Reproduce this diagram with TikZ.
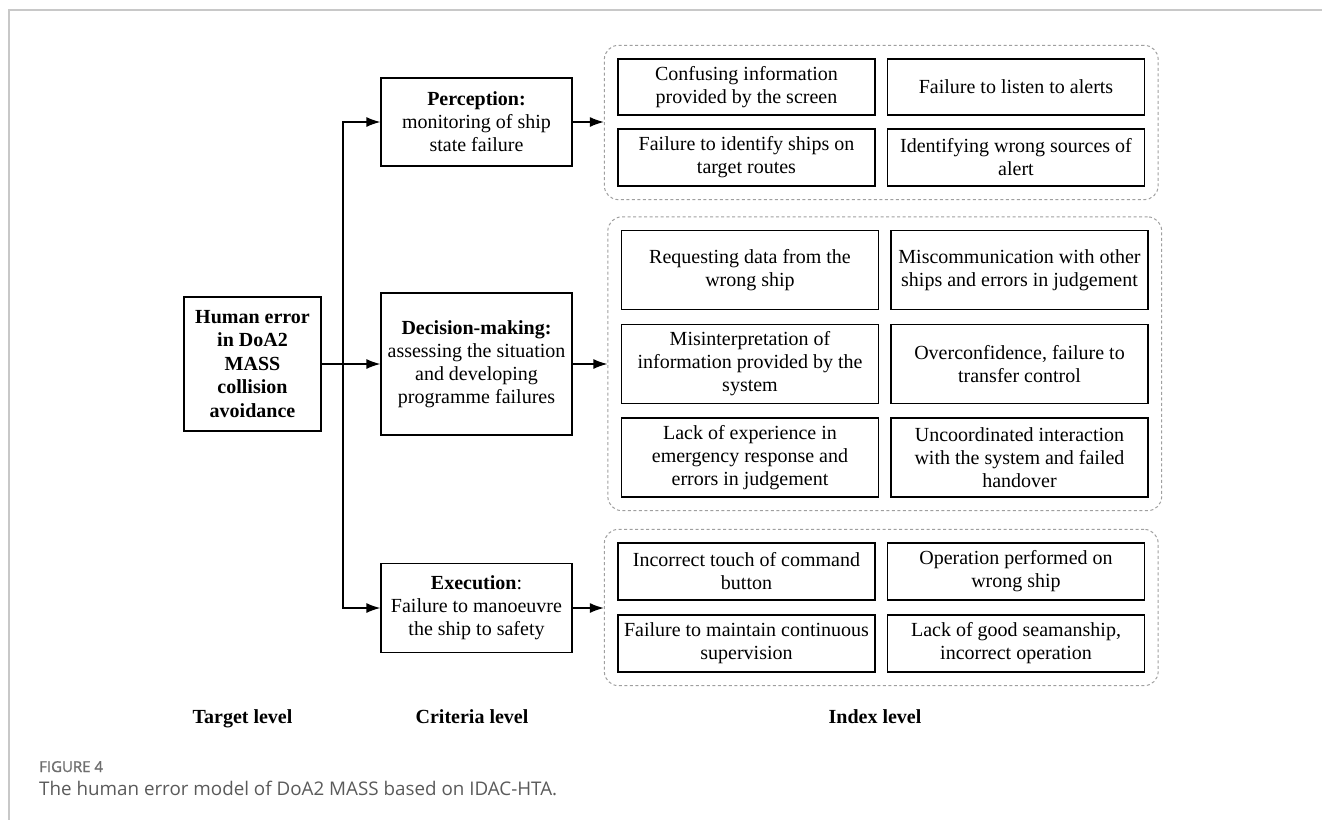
\documentclass[tikz,border=0pt]{standalone}
\usepackage{fontspec}
\setmainfont{Liberation Serif}
\newfontfamily\capfont{Open Sans}
\newfontfamily\figfont[FakeBold=1.2]{Open Sans}
\usepackage{xcolor}
\usepackage{tikz}
\usetikzlibrary{arrows.meta, calc, positioning, fit}

\definecolor{capgray}{HTML}{5A5A5A}
\definecolor{figgray}{HTML}{6E6E6E}
\definecolor{framegray}{HTML}{C8C8C8}

\begin{document}
\begin{tikzpicture}[
    x=1pt, y=-1pt,
    font=\fontsize{20}{23}\selectfont,
    node distance=224pt,
    target/.style={rectangle, draw, line width=1.3pt, align=center, minimum width=137pt, minimum height=134pt, inner sep=0pt, font=\fontsize{20}{23.5}\selectfont\bfseries},
    criteria/.style={rectangle, draw, line width=1.3pt, align=center, minimum width=191pt, inner sep=0pt},
    index/.style={rectangle, draw, line width=1.3pt, align=center, minimum width=257pt, minimum height=57pt, inner sep=0pt},
    group/.style={draw=gray!75, dash pattern=on 3pt off 2.5pt, line width=1pt, rounded corners=14pt, inner sep=13pt},
    level/.style={anchor=base, inner sep=0pt, font=\fontsize{20}{23}\selectfont\bfseries},
    line/.style={draw, -{Latex[length=14pt, width=10pt]}, line width=1.3pt}
]
    \useasboundingbox (0,0) rectangle (1322,820);

    % Page frame
    \draw [framegray, line width=1.5pt] (1322,10) -- (9,10) -- (9,820);

    % Nodes
    % Target level on the left
    \node (target) [target] at (252.5,364) {Human error\\in DoA2\\MASS\\collision\\avoidance};

    % Criteria level
    \node [criteria, minimum height=142pt, right of=target, node distance=224pt] (deci) {\textbf{Decision-making:}\\assessing the situation\\and developing\\programme failures};
    \node [criteria, minimum height=88pt, above of=deci, node distance=242pt] (perc) {\textbf{Perception:}\\monitoring of ship\\state failure};
    \node [criteria, minimum height=89pt, below of=deci, node distance=244pt] (exec) {\textbf{Execution}:\\Failure to manoeuvre\\the ship to safety};

    % Index level - perception
    \node (p1) [index, minimum height=56pt] at (746.5,87) {Confusing information\\provided by the screen};
    \node [index, minimum height=56pt, right of=p1, node distance=269.5pt] (p2) {Failure to listen to alerts};
    \node [index, below of=p1, node distance=70.5pt] (p3) {Failure to identify ships on\\target routes};
    \node [index, right of=p3, node distance=269.5pt] (p4) {Identifying wrong sources of\\alert};

    % Index level - decision-making
    \node (d1) [index, minimum height=79pt] at (750,270) {Requesting data from the\\wrong ship};
    \node [index, minimum height=79pt, right of=d1, node distance=269.5pt] (d2) {Miscommunication with other\\ships and errors in judgement};
    \node [index, minimum height=79pt, below of=d1, node distance=94pt] (d3) {Misinterpretation of\\information provided by the\\system};
    \node [index, minimum height=79pt, right of=d3, node distance=269.5pt] (d4) {Overconfidence, failure to\\transfer control};
    \node [index, minimum height=79pt, below of=d3, node distance=93.5pt] (d5) {Lack of experience in\\emergency response and\\errors in judgement};
    \node [index, minimum height=79pt, right of=d5, node distance=269.5pt] (d6) {Uncoordinated interaction\\with the system and failed\\handover};

    % Index level - execution
    \node (e1) [index] at (746.5,571.5) {Incorrect touch of command\\button};
    \node [index, right of=e1, node distance=269.5pt] (e2) {Operation performed on\\wrong ship};
    \node [index, below of=e1, node distance=72pt] (e3) {Failure to maintain continuous\\supervision};
    \node [index, right of=e3, node distance=269.5pt] (e4) {Lack of good seamanship,\\incorrect operation};

    % Dashed groups
    \node (gp) [group, fit=(p1)(p4)] {};
    \node (gd) [group, fit=(d1)(d6)] {};
    \node (ge) [group, fit=(e1)(e4)] {};

    % Connections
    \coordinate (split) at (343,364);
    \draw [line] (target.east) -- (deci.west);
    \draw [line] (split) |- (perc.west);
    \draw [line] (split) |- (exec.west);

    \draw [line] (perc.east) -- (perc.east -| gp.west);
    \draw [line] (deci.east) -- (deci.east -| gd.west);
    \draw [line] (exec.east) -- (exec.east -| ge.west);

    % Level labels (baseline aligned)
    \node (tlevel) [level] at (242.5,723) {Target level};
    \node (clevel) [level] at (472,723) {Criteria level};
    \node (ilevel) [level] at (875,723) {Index level};

    % Caption
    \node (fig) [anchor=base west, inner sep=0pt, text=figgray, font=\figfont\fontsize{15}{17}\selectfont] at (39,772) {FIGURE 4};
    \node (cap) [anchor=base west, inner sep=0pt, text=capgray, font=\capfont\fontsize{18.8}{22}\selectfont] at (39,795) {The human error model of DoA2 MASS based on IDAC-HTA.};

\end{tikzpicture}
\end{document}
